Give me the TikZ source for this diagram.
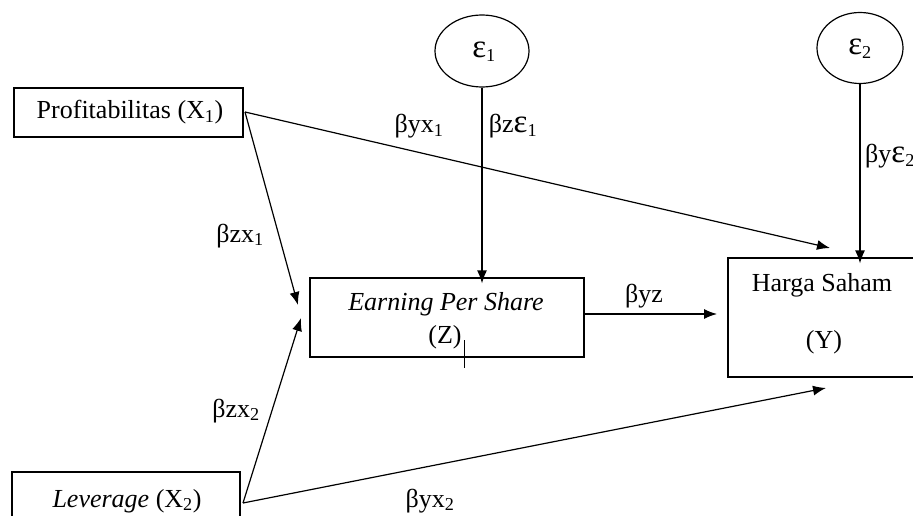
\documentclass[tikz,border=0pt]{standalone}
\usepackage{fontspec}
\setmainfont{Liberation Serif}
\usetikzlibrary{arrows.meta,shapes.geometric}
\newcommand{\bigeps}{{\fontsize{33}{33}\selectfont ε}}
\begin{document}
\begin{tikzpicture}[x=1pt,y=-1pt,
  box/.style={draw,line width=1.2pt,inner sep=0pt,rectangle},
  err/.style={draw,line width=1.2pt,inner sep=0pt,ellipse},
  txt/.style={font=\fontsize{26}{30}\selectfont,inner sep=0pt,anchor=base},
  lbl/.style={font=\fontsize{26}{30}\selectfont,inner sep=0pt,anchor=base},
  arr/.style={line width=1.2pt,-{Latex[length=13pt,width=10pt]}}]
\clip (0,0) rectangle (913,516);
\fill[white] (0,0) rectangle (913,516);
% boxes
\node[box,minimum width=229pt,minimum height=49pt] (x1) at (128.5,112.5) {};
\node[box,minimum width=274pt,minimum height=79pt] (z) at (447,317.5) {};
\node[box,minimum width=192pt,minimum height=119pt] (y) at (824,317.5) {};
\node[box,minimum width=228pt,minimum height=60pt] (x2) at (126,502) {};
\node[err,minimum width=94pt,minimum height=72pt] (e1) at (482,51) {};
\node[err,minimum width=86pt,minimum height=71pt] (e2) at (860,48) {};
% texts
\node[txt] (tx1) at (130,119) {Profitabilitas (X\textsubscript{1})};
\node[txt] (tz1) at (446,310) {\textit{Earning Per Share}};
\node[txt] (tz2) at (445,343) {(Z)};
\node[txt] (ty1) at (822,291) {Harga Saham};
\node[txt] (ty2) at (824,348) {(Y)};
\node[txt] (tx2) at (127,507) {\textit{Leverage} (X\textsubscript{2})};
\node[txt] (te1) at (484,58) {\bigeps\textsubscript{1}};
\node[txt] (te2) at (860,55) {\bigeps\textsubscript{2}};
% arrow end points
\coordinate (x1s) at (245,112);
\coordinate (x2s) at (243,503);
\coordinate (zin1) at (298,305);
\coordinate (zin2) at (301,318);
\coordinate (yin1) at (830,248);
\coordinate (yin2) at (826,388);
\coordinate (zout) at (584,314);
\coordinate (yin3) at (717,314);
% connectors
\draw[arr] (e1.south) -- ([yshift=-6pt]e1 |- z.north);
\draw[arr] (e2.south) -- ([yshift=-6pt]e2 |- y.north);
\draw[arr] (x1s) -- (zin1);
\draw[arr] (x1s) -- (yin1);
\draw[arr] (x2s) -- (zin2);
\draw[arr] (x2s) -- (yin2);
\draw[arr] (zout) -- (yin3);
% stray tick
\coordinate (t1) at (464,340);
\coordinate (t2) at (464,368);
\draw[line width=1pt] (t1) -- (t2);
% labels
\node[lbl] (l1) at (419,133) {βyx\textsubscript{1}};
\node[lbl] (l2) at (513,133) {βz\bigeps\textsubscript{1}};
\node[lbl,anchor=base west] (l3) at (865,163) {βy\bigeps\textsubscript{2}};
\node[lbl] (l4) at (240,242) {βzx\textsubscript{1}};
\node[lbl] (l5) at (236,417) {βzx\textsubscript{2}};
\node[lbl] (l6) at (430,507) {βyx\textsubscript{2}};
\node[lbl] (l7) at (644,302) {βyz};
\end{tikzpicture}
\end{document}
